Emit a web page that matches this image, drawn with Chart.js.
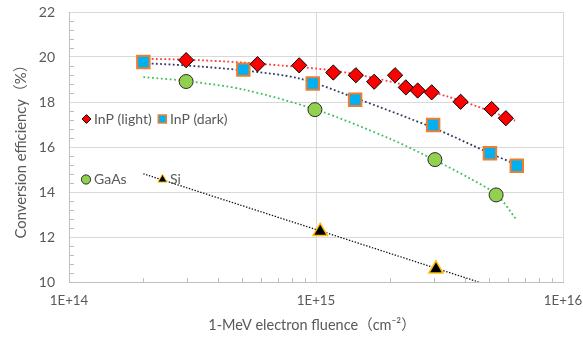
<!DOCTYPE html>
<html><head><meta charset="utf-8">
<script src="https://cdn.jsdelivr.net/npm/chart.js@4.4.1/dist/chart.umd.min.js"></script>
<style>html,body{margin:0;padding:0;background:#fff}</style>
</head><body>
<div style="width:583px;height:337px;position:relative"><canvas id="c"></canvas></div>
<script>
// ---- data ----
const fluenceLight = [2.98e14, 5.8e14, 8.55e14, 1.175e15, 1.45e15, 1.72e15, 2.09e15, 2.31e15, 2.58e15, 2.94e15, 3.85e15, 5.14e15, 5.87e15];
const effLight     = [19.86, 19.68, 19.63, 19.31, 19.19, 18.90, 19.19, 18.65, 18.51, 18.43, 18.01, 17.69, 17.28];
const fluenceDark  = [2.0e14, 5.08e14, 9.7e14, 1.44e15, 2.98e15, 5.06e15, 6.5e15];
const effDark      = [19.78, 19.44, 18.82, 18.10, 16.98, 15.72, 15.17];
const fluenceGaAs  = [2.98e14, 9.9e14, 3.03e15, 5.36e15];
const effGaAs      = [18.91, 17.66, 15.44, 13.87];
const fluenceSi    = [1.04e15, 3.06e15];
const effSi        = [12.25, 10.58];
// trendlines
const trendLightX = [2.0e14, 3.0e14, 5.0e14, 8.6e14, 1.14e15, 1.5e15, 2.2e15, 3.4e15, 4.5e15, 6.4e15];
const trendLightY = [19.92, 19.88, 19.76, 19.55, 19.42, 19.2, 18.8, 18.25, 17.8, 17.17];
const trendDarkX  = [2.0e14, 3.0e14, 5.1e14, 8.6e14, 1.44e15, 3.0e15, 5.0e15, 6.5e15];
const trendDarkY  = [19.73, 19.62, 19.4, 19.04, 18.18, 16.84, 15.75, 15.21];
const trendGaAsX  = [2.0e14, 3.0e14, 5.1e14, 1.0e15, 2.0e15, 3.0e15, 4.2e15, 5.4e15, 6.45e15];
const trendGaAsY  = [19.11, 18.93, 18.55, 17.66, 16.36, 15.44, 14.6, 13.87, 12.8];
const trendSiX    = [2.0e14, 4.55e15];
const trendSiY    = [14.81, 10.0];
const xTickLabels = ['1E+14', '1E+15', '1E+16'];
const yTicks      = [10, 12, 14, 16, 18, 20, 22];
const legendNames = ['InP (light)', 'InP (dark)', 'GaAs', 'Si'];

const FONT = "Lato, 'Noto Sans CJK SC', sans-serif";
const TXT = '#595959';
const pts = (xs, ys) => xs.map((x, i) => ({x: x, y: ys[i]}));
const isMajor = v => Math.abs(Math.log10(v) - Math.round(Math.log10(v))) < 1e-9;

const styles = [
  {pointStyle: 'rectRot', radius: 7.6, bg: '#FF0000', border: '#000000', bw: 1},
  {pointStyle: 'rect', radius: 8.8, bg: '#00B0F0', border: '#ED7D31', bw: 2},
  {pointStyle: 'circle', radius: 7, bg: '#92D050', border: '#2b2b2b', bw: 1},
  {pointStyle: 'triangle', radius: 8.2, bg: '#000000', border: '#FFC000', bw: 1.5}
];
const markerSets = [pts(fluenceLight, effLight), pts(fluenceDark, effDark), pts(fluenceGaAs, effGaAs), pts(fluenceSi, effSi)];
const datasets = markerSets.map((d, i) => ({
  label: legendNames[i], data: d, showLine: false, order: 0,
  pointStyle: styles[i].pointStyle, pointRadius: styles[i].radius, pointHoverRadius: styles[i].radius,
  pointBackgroundColor: styles[i].bg, pointBorderColor: styles[i].border, pointBorderWidth: styles[i].bw
}));
const trends = [
  {d: pts(trendLightX, trendLightY), c: '#FF3B3B', w: 1.8, dash: [1.8, 2.4]},
  {d: pts(trendDarkX, trendDarkY), c: '#2F3B63', w: 1.8, dash: [1.8, 2.4]},
  {d: pts(trendGaAsX, trendGaAsY), c: '#3FBF5A', w: 1.8, dash: [1.8, 2.6]},
  {d: pts(trendSiX, trendSiY), c: '#111111', w: 1.3, dash: [1.4, 1.6]}
];
trends.forEach(t => datasets.push({
  data: t.d, showLine: true, pointRadius: 0, pointHoverRadius: 0, order: 1,
  borderColor: t.c, borderWidth: t.w, borderDash: t.dash, tension: 0.3, fill: false
}));

const decor = {
  id: 'decor',
  beforeDatasetsDraw(chart) {
    const ctx = chart.ctx, xs = chart.scales.x, ys = chart.scales.y, a = chart.chartArea;
    ctx.save();
    ctx.strokeStyle = '#bfbfbf'; ctx.lineWidth = 1;
    ctx.beginPath();
    for (let e = 14; e < 16; e++) {
      for (let m = 2; m <= 9; m++) {
        const px = Math.round(xs.getPixelForValue(m * Math.pow(10, e))) + 0.5;
        ctx.moveTo(px, a.bottom); ctx.lineTo(px, a.bottom - 4);
      }
    }
    for (let k = 0; k < yTicks.length - 1; k++) {
      for (let j = 1; j <= 4; j++) {
        const py = Math.round(ys.getPixelForValue(yTicks[k] + j * 0.4)) + 0.5;
        ctx.moveTo(a.left, py); ctx.lineTo(a.left + 5, py);
      }
    }
    ctx.stroke();
    ctx.restore();
  },
  afterDraw(chart) {
    const ctx = chart.ctx, h = Chart.helpers;
    ctx.save();
    // legend entries inside plot
    const leg = [
      {mx: 86.5, my: 119, tx: 94, r: 4.4},
      {mx: 162.3, my: 119, tx: 170, r: 5.6},
      {mx: 86, my: 179.5, tx: 94, r: 4.6},
      {mx: 162.5, my: 179.5, tx: 170, r: 5.2}
    ];
    leg.forEach((L, i) => {
      ctx.fillStyle = styles[i].bg; ctx.strokeStyle = styles[i].border;
      ctx.lineWidth = i === 1 ? 1.6 : 1;
      h.drawPoint(ctx, {pointStyle: styles[i].pointStyle, radius: L.r, borderWidth: 1}, L.mx, L.my);
      ctx.fillStyle = TXT; ctx.font = '14px ' + FONT;
      ctx.textAlign = 'left'; ctx.textBaseline = 'middle';
      ctx.fillText(legendNames[i], L.tx, L.my);
    });
    // axis titles
    ctx.fillStyle = TXT; ctx.textAlign = 'center'; ctx.textBaseline = 'middle';
    ctx.font = '14.5px ' + FONT;
    ctx.fillText('1-MeV electron fluence\uFF08cm\u207B\u00B2\uFF09', 312, 325);
    const yTitle = 'Conversion efficiency\uFF08%\uFF09';
    ctx.font = '15px ' + FONT;
    const w = ctx.measureText(yTitle).width;
    const fs = Math.max(13, Math.min(17, 15 * 181 / w));
    ctx.font = fs.toFixed(2) + 'px ' + FONT;
    ctx.translate(21, 148); ctx.rotate(-Math.PI / 2);
    ctx.fillText(yTitle, 0, 0);
    ctx.restore();
  }
};

new Chart(document.getElementById('c'), {
  type: 'scatter',
  data: {datasets: datasets},
  plugins: [decor],
  options: {
    responsive: true, maintainAspectRatio: false, animation: false, devicePixelRatio: 1,
    layout: {padding: {left: 0, right: 20, top: 12, bottom: 0}},
    plugins: {legend: {display: false}, tooltip: {enabled: false}},
    scales: {
      x: {
        type: 'logarithmic', min: 1e14, max: 1e16,
        afterFit: s => { s.height = 55; s.paddingLeft = 0; s.paddingRight = 0; },
        border: {color: '#bfbfbf', width: 1},
        grid: {drawTicks: false, color: c => (c.tick && isMajor(c.tick.value)) ? '#d9d9d9' : 'rgba(0,0,0,0)', lineWidth: 1},
        ticks: {
          autoSkip: false, maxRotation: 0, padding: 11, color: TXT, font: {size: 13.3, family: FONT},
          callback: v => isMajor(v) ? xTickLabels[Math.round(Math.log10(v)) - 14] : ''
        }
      },
      y: {
        min: 10, max: 22,
        afterFit: s => { s.width = 69; s.paddingTop = 0; s.paddingBottom = 0; },
        border: {color: '#bfbfbf', width: 1},
        grid: {drawTicks: false, color: '#d9d9d9', lineWidth: 1},
        afterBuildTicks: s => { s.ticks = yTicks.map(v => ({value: v})); },
        ticks: {padding: 14, color: TXT, font: {size: 14, family: FONT}}
      }
    }
  }
});
</script>
</body></html>
